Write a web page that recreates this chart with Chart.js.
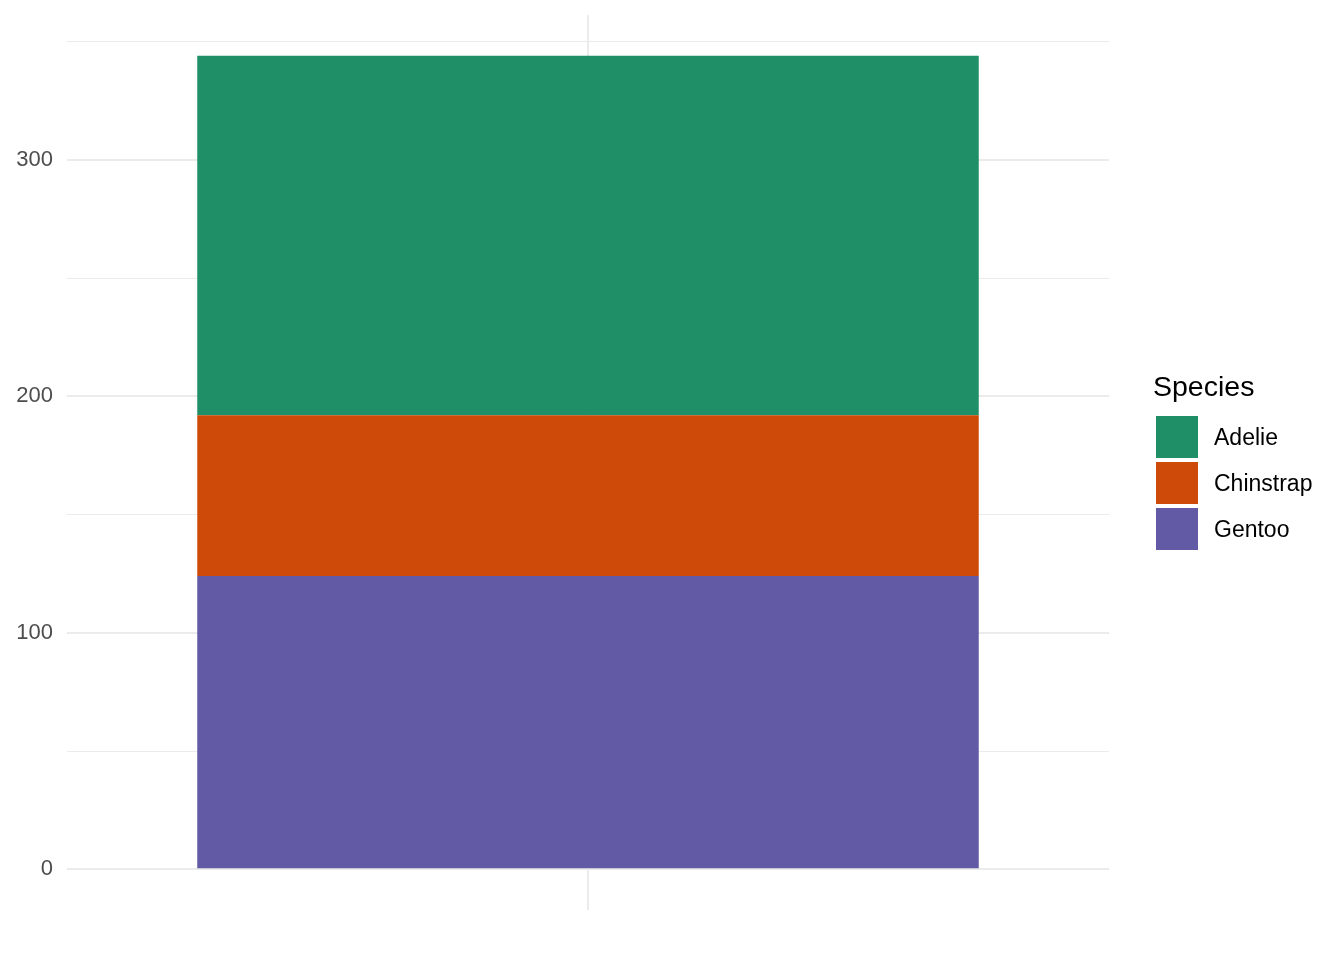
<!DOCTYPE html>
<html>
<head>
<meta charset="utf-8">
<script src="https://cdn.jsdelivr.net/npm/chart.js@4/dist/chart.umd.min.js"></script>
<style>
  html, body { margin:0; padding:0; background:#fff; }
  #wrap { position:relative; width:1344px; height:960px; }
  #legend { position:absolute; left:1153px; top:366px; font-family:"Liberation Sans", Arial, sans-serif; color:#000; }
  #legend .title { font-size:28.5px; line-height:40px; margin-bottom:8px; }
  #legend .item { display:flex; align-items:center; height:46px; }
  #legend .key { width:42px; height:42px; margin-left:3px; margin-right:16px; }
  #legend .lab { font-size:23px; }
</style>
</head>
<body>
<div id="wrap">
  <canvas id="c" width="1344" height="960"></canvas>
  <div id="legend"></div>
</div>
<script>
const categories = [""];
const species = ["Adelie", "Chinstrap", "Gentoo"];
const adelieCounts = [152];
const chinstrapCounts = [68];
const gentooCounts = [124];
const speciesColors = ["#1E8F67", "#CE4A09", "#625AA4"];
const yTickValues = [0, 50, 100, 150, 200, 250, 300, 350];

const datasets = [
  { label: "Gentoo", data: gentooCounts, backgroundColor: speciesColors[2] },
  { label: "Chinstrap", data: chinstrapCounts, backgroundColor: speciesColors[1] },
  { label: "Adelie", data: adelieCounts, backgroundColor: speciesColors[0] }
].map(d => Object.assign(d, { borderWidth: 0, barPercentage: 0.75, categoryPercentage: 1.0 }));

const total = adelieCounts[0] + chinstrapCounts[0] + gentooCounts[0];
const pad = total * 0.05;

new Chart(document.getElementById("c"), {
  type: "bar",
  data: { labels: categories, datasets },
  options: {
    responsive: false,
    animation: false,
    layout: { padding: { left: 0, right: 235, top: 15, bottom: 50 } },
    plugins: { legend: { display: false }, tooltip: { enabled: false } },
    scales: {
      x: {
        stacked: true,
        offset: true,
        grid: { offset: false, color: "#EBEBEB", lineWidth: 2, drawTicks: false },
        border: { display: false },
        ticks: { display: false },
        afterFit: s => { s.height = 0; s.paddingLeft = 0; s.paddingRight = 0; }
      },
      y: {
        stacked: true,
        min: -pad,
        max: total + pad,
        afterBuildTicks: s => { s.ticks = yTickValues.map(v => ({ value: v })); },
        grid: {
          color: "#EBEBEB",
          lineWidth: ctx => (ctx.tick && ctx.tick.value % 100 === 0) ? 2 : 1,
          drawTicks: false
        },
        border: { display: false },
        ticks: {
          padding: 14,
          color: "#4D4D4D",
          font: { family: "Liberation Sans", size: 22 },
          callback: v => (v % 100 === 0 ? String(v) : "")
        },
        afterFit: s => { s.width = 67; s.paddingTop = 0; s.paddingBottom = 0; }
      }
    }
  }
});

const leg = document.getElementById("legend");
let html = '<div class="title">Species</div>';
species.forEach((s, i) => {
  html += '<div class="item"><div class="key" style="background:' + speciesColors[i] + '"></div><span class="lab">' + s + '</span></div>';
});
leg.innerHTML = html;
</script>
</body>
</html>
